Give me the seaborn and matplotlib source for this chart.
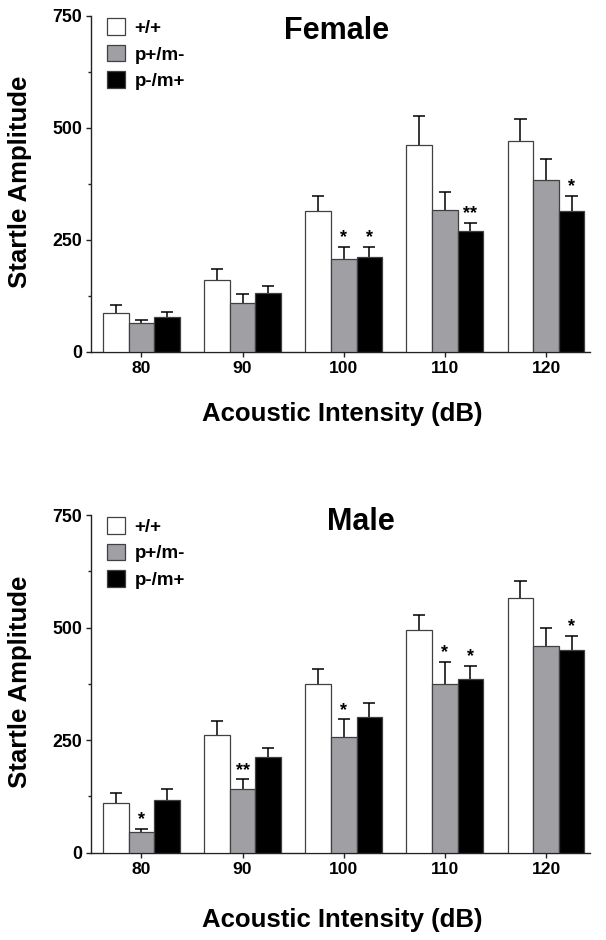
import numpy as np
import pandas as pd
import matplotlib
matplotlib.use("Agg")
import matplotlib.pyplot as plt
from matplotlib.ticker import MultipleLocator
import seaborn as sns

# ---- data ----
intensities = ["80", "90", "100", "110", "120"]
genotypes = ["+/+", "p+/m-", "p-/m+"]

female_wt = [88, 160, 314, 463, 470]
female_pm = [65, 109, 207, 318, 385]
female_mp = [78, 132, 213, 271, 315]
female_wt_err = [16, 25, 34, 63, 49]
female_pm_err = [6, 21, 28, 39, 45]
female_mp_err = [12, 15, 22, 18, 33]
female_stars = {(2, 1): "*", (2, 2): "*", (3, 2): "**", (4, 2): "*"}

male_wt = [110, 261, 374, 495, 565]
male_pm = [47, 142, 258, 374, 458]
male_mp = [117, 213, 301, 386, 450]
male_wt_err = [23, 31, 34, 33, 38]
male_pm_err = [5, 21, 38, 49, 42]
male_mp_err = [24, 19, 31, 29, 31]
male_stars = {(0, 1): "*", (1, 1): "**", (2, 1): "*", (3, 1): "*", (3, 2): "*", (4, 2): "*"}

titles = ["Female", "Male"]
ylabel = "Startle Amplitude"
xlabel = "Acoustic Intensity (dB)"
colors = ["#ffffff", "#a0a0a4", "#000000"]

sns.set_theme(style="white")
plt.rcParams["font.family"] = ["Liberation Sans", "DejaVu Sans"]
plt.rcParams["font.weight"] = "bold"
for k in ["text.color", "axes.labelcolor", "xtick.color", "ytick.color"]:
    plt.rcParams[k] = "black"

fig = plt.figure(figsize=(6.06, 9.4), dpi=100)
W, H = 606, 940


def make_df(vals):
    rows = []
    for g, series in zip(genotypes, vals):
        for x, v in zip(intensities, series):
            rows.append({"Intensity": x, "Genotype": g, "Amplitude": v})
    return pd.DataFrame(rows)


panels = [
    dict(vals=[female_wt, female_pm, female_mp],
         errs=[female_wt_err, female_pm_err, female_mp_err],
         stars=female_stars, rect=(90.8, 16, 589.5, 352), title_xy=(0.493, 0.955),
         leg_xy=(106.5, 18), xl_y=-0.150),
    dict(vals=[male_wt, male_pm, male_mp],
         errs=[male_wt_err, male_pm_err, male_mp_err],
         stars=male_stars, rect=(90.8, 515, 589.5, 852.7), title_xy=(0.542, 0.978),
         leg_xy=(106.5, 517), xl_y=-0.163),
]

for p, title in zip(panels, titles):
    x0, y0, x1, y1 = p["rect"]
    ax = fig.add_axes([x0 / W, 1 - y1 / H, (x1 - x0) / W, (y1 - y0) / H])
    df = make_df(p["vals"])
    sns.barplot(data=df, x="Intensity", y="Amplitude", hue="Genotype",
                order=intensities, hue_order=genotypes, palette=colors,
                width=0.76, edgecolor="#404040", linewidth=0.9,
                errorbar=None, ax=ax, zorder=3)

    # error bars (upper only) + significance stars
    for gi, (cont, vals, errs) in enumerate(zip(ax.containers, p["vals"], p["errs"])):
        for ci, (bar, v, e) in enumerate(zip(cont.patches, vals, errs)):
            xc = bar.get_x() + bar.get_width() / 2
            top = v + e
            ax.vlines(xc, v, top, color="black", lw=1.1, zorder=2)
            ax.hlines(top, xc - 0.061, xc + 0.061, color="black", lw=1.1, zorder=2)
            s = p["stars"].get((ci, gi))
            if s:
                ax.annotate(s, (xc, top), xytext=(0, 0.5), textcoords="offset points",
                            ha="center", va="bottom", fontsize=13, fontweight="bold")

    ax.set_ylim(0, 750)
    ax.set_xlim(-0.50, 4.43)
    ax.yaxis.set_major_locator(MultipleLocator(250))
    ax.yaxis.set_minor_locator(MultipleLocator(125))
    sns.despine(ax=ax)
    for sp in ["left", "bottom"]:
        ax.spines[sp].set_color("#222222")
        ax.spines[sp].set_linewidth(1.0)
    ax.tick_params(axis="y", which="major", left=True, length=3.5, width=1.0,
                   color="#222222", pad=2.5, labelsize=12.8)
    ax.tick_params(axis="y", which="minor", left=True, length=2.5, width=1.0,
                   color="#222222")
    ax.tick_params(axis="x", which="major", bottom=True, length=3.5, width=1.0,
                   color="#222222", pad=3, labelsize=12.6)
    for lab in ax.get_xticklabels() + ax.get_yticklabels():
        lab.set_fontweight("bold")

    ax.set_ylabel(ylabel, fontsize=18.5, fontweight="bold")
    ax.yaxis.set_label_coords(-0.118, 0.507)
    ax.set_xlabel(xlabel, fontsize=18.5, fontweight="bold")
    ax.xaxis.set_label_coords(0.505, p["xl_y"])

    ax.text(p["title_xy"][0], p["title_xy"][1], title, transform=ax.transAxes,
            ha="center", va="center", fontsize=22, fontweight="bold")

    lx, ly = p["leg_xy"]
    sns.move_legend(ax, "upper left", bbox_to_anchor=(lx / W, 1 - ly / H),
                    bbox_transform=fig.transFigure, frameon=False, title=None,
                    fontsize=13.5, handlelength=1.0, handleheight=1.0,
                    labelspacing=0.42, handletextpad=0.5, borderpad=0,
                    borderaxespad=0)
    leg = ax.get_legend()
    for t in leg.get_texts():
        t.set_fontweight("bold")

fig.savefig("out.png", dpi=100)
